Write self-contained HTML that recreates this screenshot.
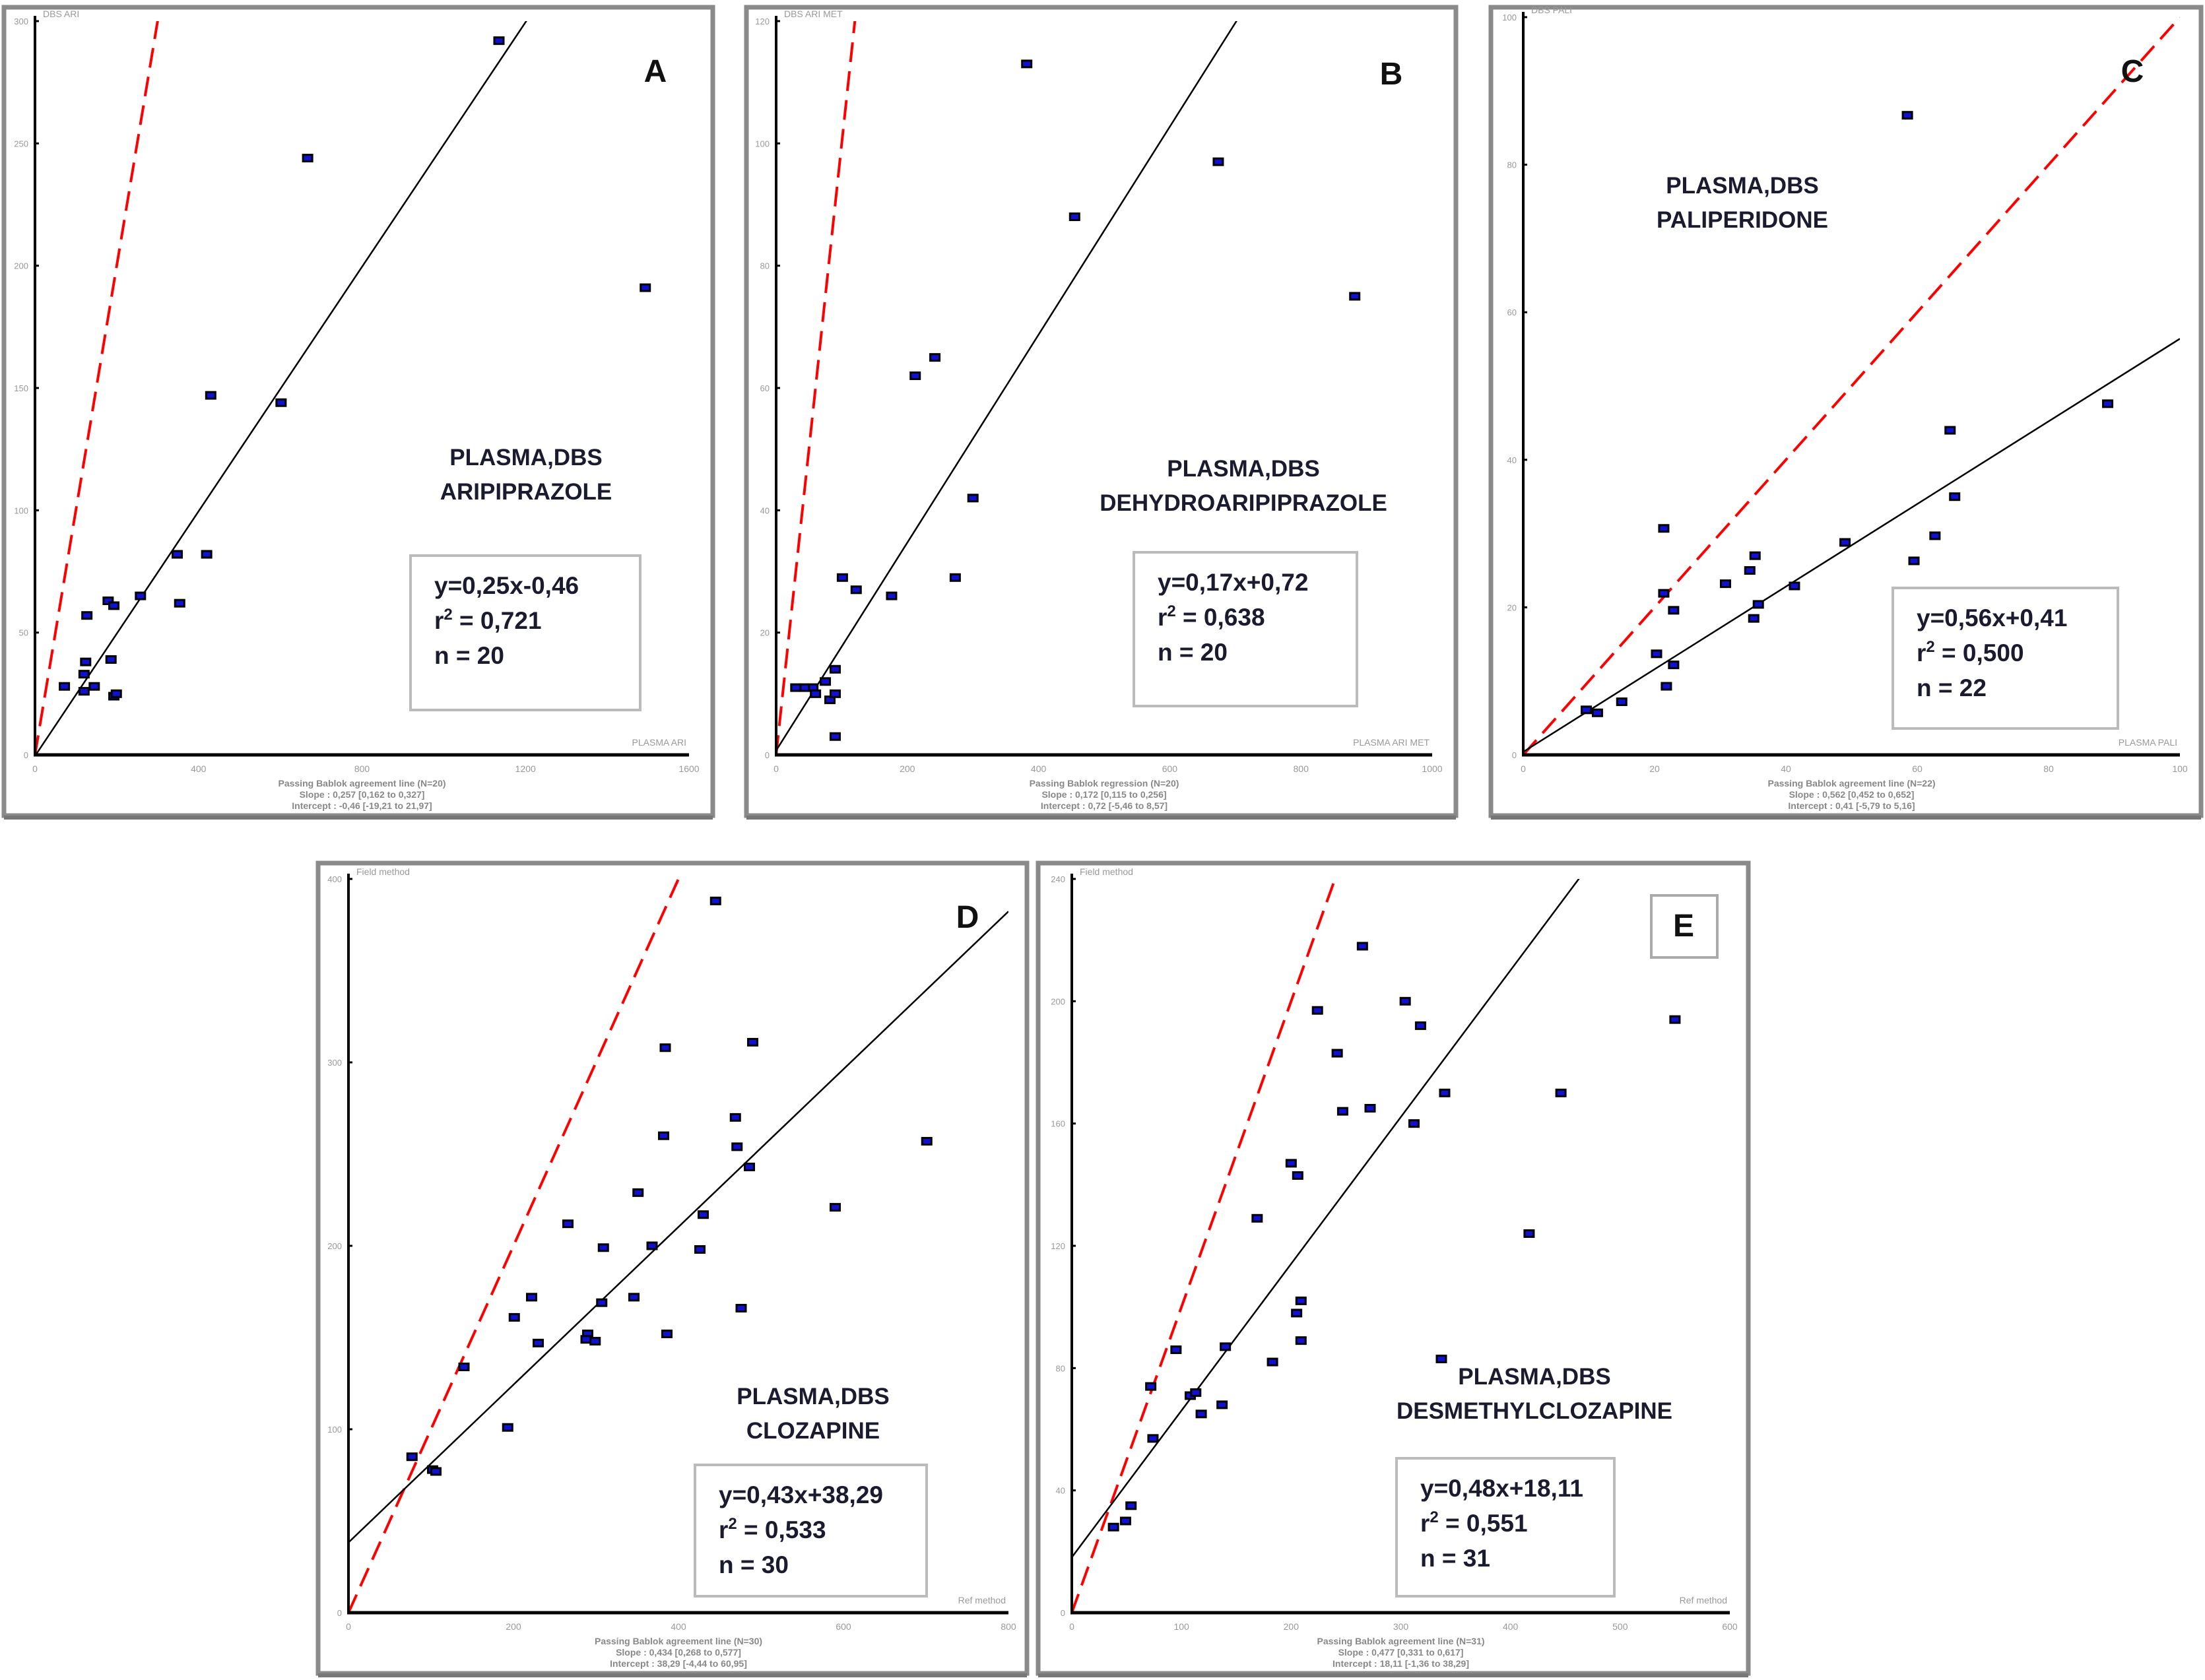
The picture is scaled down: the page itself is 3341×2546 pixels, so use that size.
<!DOCTYPE html>
<html><head><meta charset="utf-8">
<style>
html,body{margin:0;padding:0;background:#fff;width:3341px;height:2546px;overflow:hidden}
svg{display:block}
text{font-family:"Liberation Sans",sans-serif}
</style></head>
<body>
<svg id="fig" width="3341" height="2546" viewBox="0 0 3341 2546" xmlns="http://www.w3.org/2000/svg"></svg>
<script>
// ---- Data ----
const aX = [1135,667,1493,430,602,348,420,354,258,179,193,127,186,124,120,72,145,120,193,199];
const aY = [292,244,191,147,144,82,82,62,65,63,61,57,39,38,33,28,28,26,24,25];
const bX = [382,455,674,882,212,242,300,273,176,101,122,90,75,56,43,30,60,82,90,90];
const bY = [113,88,97,75,62,65,42,29,26,29,27,14,12,11,11,11,10,9,10,3];
const cX = [58.5,65,65.7,89,62.7,59.5,49,35.3,30.8,34.5,41.3,35.8,35.1,21.4,21.4,22.9,20.3,22.9,21.8,15,9.6,11.3];
const cY = [86.7,44,35,47.6,29.7,26.3,28.8,27,23.2,25,22.9,20.4,18.5,30.7,21.9,19.6,13.7,12.2,9.3,7.2,6.1,5.7];
const dX = [445,384,490,469,382,701,471,486,351,590,430,266,368,426,309,222,346,307,201,230,386,290,288,476,140,193,77,102,106,299];
const dY = [388,308,311,270,260,257,254,243,229,221,217,212,200,198,199,172,172,169,161,147,152,152,149,166,134,101,85,78,77,148];
const eX = [265,550,224,304,318,242,446,340,247,272,312,200,206,169,417,209,205,209,140,183,95,337,72,137,108,113,118,74,54,49,38];
const eY = [218,194,197,200,192,183,170,170,164,165,160,147,143,129,124,102,98,89,87,82,86,83,74,68,71,72,65,57,35,30,28];
const slopes = [0.25,0.17,0.56,0.43,0.48];
const intercepts = [-0.46,0.72,0.41,38.29,18.11];
const xMaxes = [1600,1000,100,800,600];
const yMaxes = [300,120,100,400,240];
const xSteps = [400,200,20,200,100];
const ySteps = [50,20,20,100,40];
const letters = ["A","B","C","D","E"];
const drugs = ["ARIPIPRAZOLE","DEHYDROARIPIPRAZOLE","PALIPERIDONE","CLOZAPINE","DESMETHYLCLOZAPINE"];
const eqs = ["y=0,25x-0,46","y=0,17x+0,72","y=0,56x+0,41","y=0,43x+38,29","y=0,48x+18,11"];
const r2s = ["0,721","0,638","0,500","0,533","0,551"];
const ns = ["20","20","22","30","31"];
const yTitles = ["DBS ARI","DBS ARI MET","DBS PALI","Field method","Field method"];
const xTitles = ["PLASMA ARI","PLASMA ARI MET","PLASMA PALI","Ref method","Ref method"];
const foot1 = ["Passing Bablok agreement line (N=20)","Passing Bablok regression (N=20)","Passing Bablok agreement line (N=22)","Passing Bablok agreement line (N=30)","Passing Bablok agreement line (N=31)"];
const foot2 = ["Slope : 0,257 [0,162 to 0,327]","Slope : 0,172 [0,115 to 0,256]","Slope : 0,562 [0,452 to 0,652]","Slope : 0,434 [0,268 to 0,577]","Slope : 0,477 [0,331 to 0,617]"];
const foot3 = ["Intercept : -0,46 [-19,21 to 21,97]","Intercept : 0,72 [-5,46 to 8,57]","Intercept : 0,41 [-5,79 to 5,16]","Intercept : 38,29 [-4,44 to 60,95]","Intercept : 18,11 [-1,36 to 38,29]"];
const xsAll=[aX,bX,cX,dX,eX], ysAll=[aY,bY,cY,dY,eY];

// ---- Layout ----
const panels = [
 {l:6,t:11,w:1074,h:1225,x0:53,x1:1044,y0:1144,yt:32,lt:[993,107],title:[797,693],box:[622,842,348,234]},
 {l:1131,t:11,w:1075,h:1225,x0:1176,x1:2170,y0:1144,yt:32,lt:[2108,111],title:[1884,710],box:[1718,837,338,233]},
 {l:2259,t:11,w:1076,h:1225,x0:2308,x1:3303,y0:1144,yt:26,lt:[3231,107],title:[2640,281],box:[2868,891,341,213]},
 {l:482,t:1308,w:1074,h:1228,x0:528,x1:1528,y0:2444,yt:1332,lt:[1466,1389],title:[1232,2116],box:[1053,2220,351,199]},
 {l:1573,t:1308,w:1076,h:1228,x0:1624,x1:2621,y0:2444,yt:1332,lt:[2551,1402],title:[2325,2086],box:[2116,2210,330,209]}
];
const NS="http://www.w3.org/2000/svg";
const svg=document.getElementById('fig');
function mk(tag,attrs,parent){const e=document.createElementNS(NS,tag);for(const k in attrs)e.setAttribute(k,attrs[k]);(parent||svg).appendChild(e);return e;}
function txt(s,attrs,parent){const e=mk('text',attrs,parent);e.textContent=s;return e;}

panels.forEach((p,i)=>{
  const g=mk('g',{});
  
  
  const sx=v=>p.x0+v/xMaxes[i]*(p.x1-p.x0);
  const sy=v=>p.y0-v/yMaxes[i]*(p.y0-p.yt);
  const fr=mk('rect',{x:p.l,y:p.t,width:p.w,height:p.h,fill:'#fff',stroke:'#8a8a8a','stroke-width':7},g);
  
  
  mk('line',{x1:p.l,y1:p.t+p.h+3,x2:p.l+p.w,y2:p.t+p.h+3,stroke:'#777','stroke-width':6},g);
  const clipId='clip'+i;
  const cp=mk('clipPath',{id:clipId},g);
  mk('rect',{x:p.x0,y:p.yt,width:p.x1-p.x0,height:p.y0-p.yt},cp);
  // identity line
  const idl=mk('line',{x1:sx(0),y1:sy(0),x2:sx(xMaxes[i]),y2:sy(xMaxes[i]),stroke:'#ff0000','stroke-width':4,'stroke-dasharray':'30 14','clip-path':`url(#${clipId})`},g);
  
  
  // regression line
  const xe=xMaxes[i];
  const rl=mk('line',{x1:sx(0),y1:sy(intercepts[i]),x2:sx(xe),y2:sy(slopes[i]*xe+intercepts[i]),stroke:'#000','stroke-width':2.5,'clip-path':`url(#${clipId})`},g);
  
  
  // axes
  const ya=mk('line',{x1:p.x0,y1:p.yt-8,x2:p.x0,y2:p.y0+2,stroke:'#000','stroke-width':4},g);
  
  
  const xa=mk('line',{x1:p.x0-2,y1:p.y0,x2:p.x1,y2:p.y0,stroke:'#000','stroke-width':5},g);
  
  
  for(let v=0;v<=yMaxes[i]+1e-9;v+=ySteps[i]){
    mk('line',{x1:p.x0,y1:sy(v),x2:p.x0+6,y2:sy(v),stroke:'#000','stroke-width':3},g);
    const t=txt(String(v),{x:p.x0-10,y:sy(v)+5,'font-size':13,fill:'#999','text-anchor':'end'},g);
    
    
  }
  for(let v=0;v<=xMaxes[i]+1e-9;v+=xSteps[i]){
    const t=txt(String(v),{x:sx(v),y:p.y0+26,'font-size':14,fill:'#999','text-anchor':'middle'},g);
    
    
  }
  const yt=txt(yTitles[i],{x:p.x0+12,y:p.yt-6,'font-size':14,fill:'#999'},g);
  
  
  const xt=txt(xTitles[i],{x:p.x1-4,y:p.y0-14,'font-size':14,fill:'#999','text-anchor':'end'},g);
  
  
  const cx=(p.x0+p.x1)/2;
  [foot1[i],foot2[i],foot3[i]].forEach((s,k)=>{
    const f=txt(s,{x:cx,y:p.y0+48+k*17,'font-size':14,fill:'#888','text-anchor':'middle','font-weight':'bold'},g);
    
    
  });
  // points
  xsAll[i].forEach((xv,k)=>{
    const yv=ysAll[i][k];
    const r=mk('rect',{x:sx(xv)-7,y:sy(yv)-5,width:14,height:10,fill:'#1010d0',stroke:'#000','stroke-width':3},g);
    
    
  });
  // panel letter
  if(i===4){
    const lb=mk('rect',{x:2502,y:1357,width:100,height:94,fill:'#fff',stroke:'#aaa','stroke-width':4},g);
    
    
  }
  const L=txt(letters[i],{x:p.lt[0],y:p.lt[1]+17,'font-size':48,'font-weight':'bold',fill:'#111','text-anchor':'middle'},g);
  
  
  const T1=txt('PLASMA,DBS',{x:p.title[0],y:p.title[1]+12,'font-size':35,'font-weight':'bold',fill:'#1b1b30','text-anchor':'middle'},g);
  
  
  const T2=txt(drugs[i],{x:p.title[0],y:p.title[1]+64,'font-size':35,'font-weight':'bold',fill:'#1b1b30','text-anchor':'middle'},g);
  
  
  const bx=p.box;
  const B=mk('rect',{x:bx[0],y:bx[1],width:bx[2],height:bx[3],fill:'#fff',stroke:'#bbb','stroke-width':4},g);
  
  
  const tx=bx[0]+36, ty=bx[1]+58;
  const e1=txt(eqs[i],{x:tx,y:ty,'font-size':37,'font-weight':'bold',fill:'#1b1b30'},g);
  
  
  const e2=mk('text',{x:tx,y:ty+53,'font-size':37,'font-weight':'bold',fill:'#1b1b30'},g);
  e2.innerHTML='r<tspan dy="-14" font-size="24">2</tspan><tspan dy="14"> = '+r2s[i]+'</tspan>';
  
  
  const e3=txt('n = '+ns[i],{x:tx,y:ty+106,'font-size':37,'font-weight':'bold',fill:'#1b1b30'},g);
  
  
});
</script>
</body></html>
